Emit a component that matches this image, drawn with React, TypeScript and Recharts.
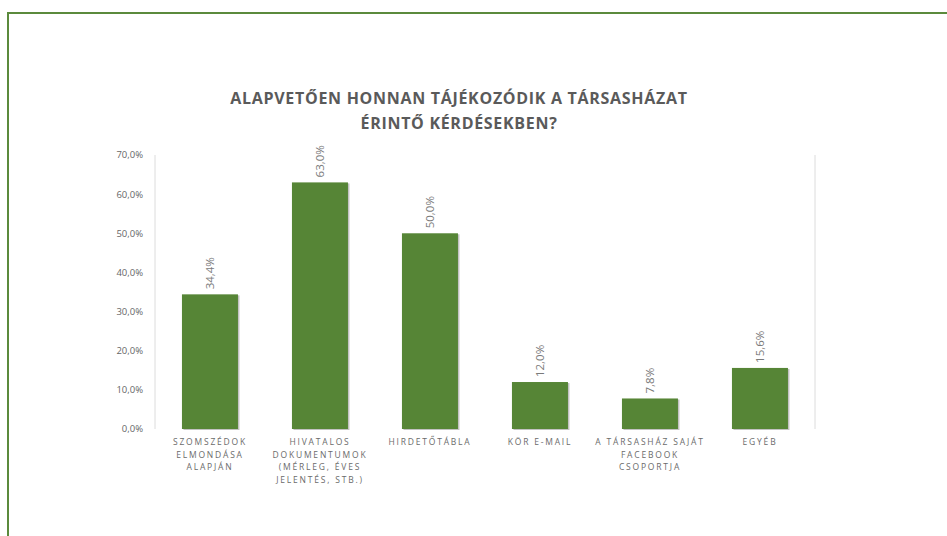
import { Bar, BarChart, CartesianGrid, LabelList, XAxis, YAxis } from 'recharts'

const title = ['ALAPVETŐEN HONNAN TÁJÉKOZÓDIK A TÁRSASHÁZAT', 'ÉRINTŐ KÉRDÉSEKBEN?']

const categoryLines = [
  ['SZOMSZÉDOK', 'ELMONDÁSA', 'ALAPJÁN'],
  ['HIVATALOS', 'DOKUMENTUMOK', '(MÉRLEG, ÉVES', 'JELENTÉS, STB.)'],
  ['HIRDETŐTÁBLA'],
  ['KÖR E-MAIL'],
  ['A TÁRSASHÁZ SAJÁT', 'FACEBOOK', 'CSOPORTJA'],
  ['EGYÉB'],
]

const values = [34.4, 63.0, 50.0, 12.0, 7.8, 15.6]

const yTicks = [0, 10, 20, 30, 40, 50, 60, 70]
// edges of the category slots
const slotEdges = [0, 1, 2, 3, 4, 5, 6]

const data = categoryLines.map((lines, i) => ({
  name: lines.join(' '),
  value: values[i],
}))

const green = '#568536'
const font = '"Open Sans", "Noto Sans", sans-serif'

const pct = (v: number) => `${v.toFixed(1).replace('.', ',')}%`

function CategoryTick(props: any) {
  const { x, y, payload } = props
  const lines = categoryLines[payload.index] ?? [payload.value]
  return (
    <text
      x={x}
      y={y}
      textAnchor="middle"
      fill="#6b6b6b"
      fontSize={8.5}
      fontFamily={font}
      letterSpacing={1.8}
    >
      {lines.map((l: string, i: number) => (
        <tspan key={i} x={x} dy={i === 0 ? 8 : 12.7}>
          {l}
        </tspan>
      ))}
    </text>
  )
}

function ValueLabel(props: any) {
  const { x, y, width, value } = props
  const cx = x + width / 2
  const ty = y - 5
  return (
    <text
      x={cx}
      y={ty}
      transform={`rotate(-90, ${cx}, ${ty})`}
      textAnchor="start"
      dominantBaseline="central"
      fill="#7a7a7a"
      fontSize={11.5}
      fontFamily={font}
    >
      {pct(value)}
    </text>
  )
}

function ShadowBar(props: any) {
  const { x, y, width, height, fill } = props
  return (
    <g>
      <rect x={x + 1.5} y={y + 1} width={width} height={height} fill="#9a9a9a" opacity={0.6} />
      <rect x={x} y={y} width={width} height={height} fill={fill} />
    </g>
  )
}

export default function App() {
  return (
    <div
      style={{
        position: 'absolute',
        left: 0,
        top: 0,
        width: 947,
        height: 536,
        overflow: 'hidden',
        background: '#fff',
      }}
    >
      <div
        style={{
          position: 'absolute',
          left: 7,
          top: 12,
          width: 1000,
          height: 600,
          border: '2px solid #5b8a3c',
          boxSizing: 'border-box',
        }}
      />
      <div
        style={{
          position: 'absolute',
          left: 0,
          width: 918,
          top: 86,
          textAlign: 'center',
          fontFamily: font,
          fontWeight: 700,
          fontSize: 16,
          lineHeight: '25px',
          letterSpacing: 0.7,
          color: '#5a5a5a',
        }}
      >
        {title.map((t) => (
          <div key={t}>{t}</div>
        ))}
      </div>
      <div style={{ position: 'absolute', left: 0, top: 0 }}>
        <BarChart
          width={947}
          height={536}
          data={data}
          margin={{ top: 155, right: 132, bottom: 47, left: 0 }}
          barCategoryGap="24.5%"
        >
          <CartesianGrid xAxisId="grid" horizontal={false} vertical stroke="#dcdcdc" />
          <XAxis
            xAxisId="grid"
            type="number"
            domain={[0, 6]}
            ticks={slotEdges}
            height={0}
            tick={false}
            tickSize={4}
            axisLine={{ stroke: '#d4d4d4' }}
            tickLine={{ stroke: '#d4d4d4' }}
          />
          <XAxis
            dataKey="name"
            height={60}
            axisLine={false}
            tickLine={false}
            interval={0}
            tick={<CategoryTick />}
          />
          <YAxis
            width={155}
            domain={[0, 70]}
            ticks={yTicks}
            tickFormatter={pct}
            axisLine={false}
            tickLine={false}
            tickSize={0}
            tickMargin={12}
            tick={{ fill: '#666', fontSize: 9.5, fontFamily: font }}
          />
          <Bar dataKey="value" fill={green} isAnimationActive={false} shape={<ShadowBar />}>
            <LabelList dataKey="value" content={<ValueLabel />} />
          </Bar>
        </BarChart>
      </div>
    </div>
  )
}
